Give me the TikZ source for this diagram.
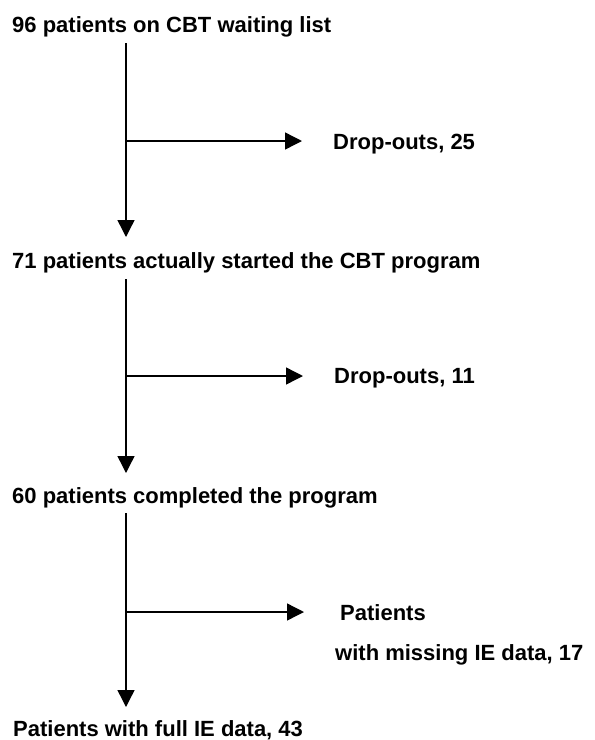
\documentclass[tikz,border=0pt]{standalone}
\usepackage{fontspec}
\setmainfont{Liberation Sans}
\usetikzlibrary{arrows.meta}

\begin{document}
\begin{tikzpicture}[x=1pt,y=1pt,
    stage/.style={anchor=base west,inner sep=0pt,font=\bfseries\fontsize{22}{26}\selectfont},
    flow/.style={line width=1.4pt,-{Triangle[length=17pt,width=17pt]}}]
    \useasboundingbox (0,0) rectangle (595,-740);

    \node[stage] (t1) at (12,-32) {96 patients on CBT waiting list};
    \node[stage] (t2) at (12,-268) {71 patients actually started the CBT program};
    \node[stage] (t3) at (12,-503) {60 patients completed the program};
    \node[stage] (t4) at (13,-736) {Patients with full IE data, 43};

    \node[stage] (d1) at (333,-149.5) {Drop-outs, 25};
    \node[stage] (d2) at (334,-383.5) {Drop-outs, 11};
    \node[stage] (m1) at (340,-620) {Patients};
    \node[stage] (m2) at (335,-660) {with missing IE data, 17};

    % spine and forks
    \coordinate (sp) at (126,0);
    \coordinate (f1) at (126,-141);
    \coordinate (f2) at (126,-376);
    \coordinate (f3) at (126,-612);

    \path[flow]
      (t1.base -| sp) ++(0,-11) coordinate (a1) (a1) edge ([yshift=31pt]t2.base -| sp)
      (t2.base -| sp) ++(0,-11) coordinate (a2) (a2) edge ([yshift=30pt]t3.base -| sp)
      (t3.base -| sp) ++(0,-10) coordinate (a3) (a3) edge ([yshift=29pt]t4.base -| sp);

    \path[flow,shorten >=31pt]
      (f1) edge (f1 -| d1.west)
      (f2) edge (f2 -| d2.west)
      (f3) edge (f3 -| m2.west);
\end{tikzpicture}
\end{document}
